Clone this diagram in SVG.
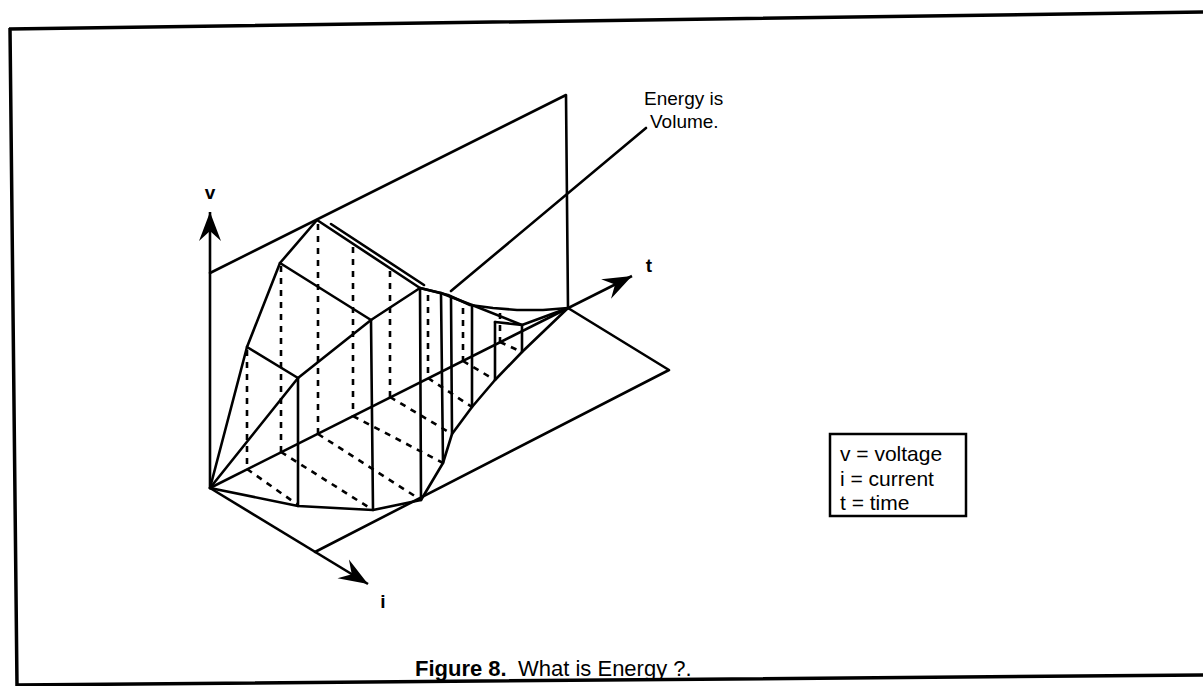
<svg xmlns="http://www.w3.org/2000/svg" width="1203" height="686" viewBox="0 0 1203 686">
<style>
.ln{fill:none;stroke:#000;stroke-width:2.6;stroke-linejoin:round;stroke-linecap:round}
.ax{fill:none;stroke:#000;stroke-width:2.6}
.hid{fill:none;stroke:#000;stroke-width:2.6;stroke-dasharray:6 6}
.fr{fill:none;stroke:#000;stroke-width:3.5}
.lbl{font-family:"Liberation Sans",Arial,sans-serif;font-weight:bold;font-size:19px;fill:#000}
.txt{font-family:"Liberation Sans",Arial,sans-serif;font-size:19px;fill:#000}
.leg{font-family:"Liberation Sans",Arial,sans-serif;font-size:21px;fill:#000}
.cap{font-family:"Liberation Sans",Arial,sans-serif;font-size:22px;fill:#000}
</style>
<defs>
<marker id="arr" markerUnits="userSpaceOnUse" viewBox="-31 -12 33 24" markerWidth="33" markerHeight="24" refX="0" refY="0" orient="auto">
<path d="M0,0 L-29,-11 L-19,0 L-29,11 Z" fill="#000"/>
</marker>
</defs>
<rect width="1203" height="686" fill="#fff"/>
<g id="frame">
<path class="fr" d="M9,29 L1203,12 M10,28 L17,686 M17,685 L1203,675"/>
</g>
<g id="planes">
<polyline class="ln" points="210,273 566,95 568,308"/>
<polyline class="ln" points="315,552 669,370 568,308"/>
</g>
<g id="axes">
<line class="ax" x1="210" y1="488" x2="210" y2="212" marker-end="url(#arr)"/>
<line class="ax" x1="210" y1="488" x2="632" y2="276" marker-end="url(#arr)"/>
<line class="ax" x1="210" y1="488" x2="368" y2="584" marker-end="url(#arr)"/>
</g>
<g id="volume">
<g id="hidden-edges">
<path class="hid" d="M247,350 V469 M281,266 V452 M318,224 V434 M353,247 V416 M390,271 V397 M428,295 V378 M463,308 V361 M500,313 V342"/>
<path class="hid" d="M247,469 L298,505 M281,452 L373,510 M318,434 L421,500 M353,416 L443,463 M390,397 L452,434 M428,378 L472,407 M463,361 L495,380 M500,342 L522,352"/>
</g>
<g id="visible-edges">
<polyline class="ln" points="210,488 247,347 280,263 317,220 420,288 448,295 470,305 493,308 517,310 543,310 568,308"/>
<line class="ln" x1="331" y1="224" x2="424" y2="285"/>
<polyline class="ln" points="210,488 298,378 371,320 420,288 441,293 451,297 472,305 522,325 568,308"/>
<polyline class="ln" points="210,488 298,506 373,510 421,500 443,463 452,434 472,407 495,380 522,352 568,308"/>
<path class="ln" d="M247,347 L298,378 M280,263 L371,320 M495,322 L522,325"/>
<path class="ln" d="M298,378 V506 M371,320 L373,510 M420,288 L421,500 M441,293 L443,463 M451,297 L452,434 M472,305 V407 M495,322 V380 M522,325 V352"/>
</g>
</g>
<g id="pointer">
<line class="ln" x1="451" y1="291" x2="646" y2="128"/>
</g>
<g id="labels">
<text class="lbl" x="210" y="199" text-anchor="middle">v</text>
<text class="lbl" x="649" y="272" text-anchor="middle">t</text>
<text class="lbl" x="383" y="608" text-anchor="middle">i</text>
<text class="txt" x="644" y="105">Energy is</text>
<text class="txt" x="650" y="128">Volume.</text>
</g>
<g id="legend">
<rect x="830" y="434" width="136" height="82" fill="none" stroke="#000" stroke-width="2.5"/>
<text class="leg" x="840" y="461">v = voltage</text>
<text class="leg" x="840" y="486">i = current</text>
<text class="leg" x="840" y="510">t = time</text>
</g>
<g id="caption">
<text class="cap" x="415" y="676"><tspan font-weight="bold">Figure 8.</tspan><tspan x="518">What is Energy ?.</tspan></text>
</g>
</svg>
